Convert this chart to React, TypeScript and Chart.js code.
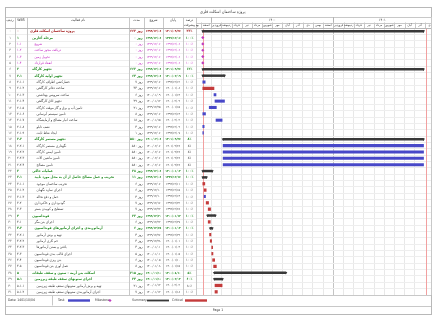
import React, { useEffect, useRef } from "react";
import { Chart, registerables } from "chart.js";

Chart.register(...registerables);

const W = 448;
const H = 317;

// ---------- data ----------
const rowIds = Array.from({ length: 42 }, (_, i) => i);

const wbs = [
  "0", "1", "1.1", "1.2", "1.3", "1.4", "2", "2.1", "2.1.1", "2.1.2", "2.1.3", "2.1.4", "2.1.5",
  "2.1.6", "2.1.7", "2.1.8", "2.1.9", "2.2", "2.2.1", "2.2.2", "2.2.3", "2.2.4", "3", "3.1",
  "3.1.1", "3.1.2", "3.1.3", "3.2", "3.3", "4", "4.1", "4.2", "4.2.1", "4.2.2", "4.2.3", "4.3",
  "4.4", "4.5", "5", "5.1", "5.1.1", "5.1.2",
];

const taskNames = [
  "پروژه ساختمان اسکلت فلزی",
  "مرحله آغازین",
  "شروع",
  "دریافت مجوز ساخت",
  "تحویل زمین",
  "انعقاد قرارداد",
  "تجهیز کارگاه",
  "تجهیز اولیه کارگاه",
  "حصارکشی اطراف کارگاه",
  "ساخت دفاتر کارگاهی",
  "ساخت سرویس بهداشتی",
  "تجهیز اتاق کارگاهی",
  "تامین آب و برق و گاز موقت کارگاه",
  "تامین سیستم آبرسانی",
  "ساخت انبار مصالح و آزمایشگاه",
  "نصب تابلو",
  "ایجاد نقاط ثابت",
  "تجهیز مستمر کارگاه",
  "نگهداری مستمر کارگاه",
  "تامین ایمنی کارگاه",
  "تامین ماشین آلات",
  "تامین مصالح",
  "عملیات خاکی",
  "تخریب و حمل مصالح حاصل از آن به محل مورد تایید",
  "تخریب ساختمان موجود",
  "اجرای سازه نگهبان",
  "حمل و دفع نخاله",
  "گودبرداری و خاکبرداری",
  "تسطیح و کوبیدن بستر",
  "فونداسیون",
  "اجرای بتن مگر",
  "آرماتوربندی و اجرای آرماتورهای فونداسیون",
  "تهیه و برش آرماتور",
  "خم کاری آرماتور",
  "بافتن و بستن آرماتورها",
  "اجرای قالب بندی فونداسیون",
  "بتن ریزی فونداسیون",
  "عمل آوری بتن فونداسیون",
  "اسکلت بتن آرمه - ستون و سقف طبقات",
  "اجرای ستونهای سقف طبقه زیرزمین",
  "تهیه و برش آرماتور ستونهای سقف طبقه زیرزمین",
  "اجرای آرماتوربندی ستونهای سقف طبقه زیرزمین",
];

const outlineLevels = [
  0, 1, 2, 2, 2, 2, 1, 2, 3, 3, 3, 3, 3, 3, 3, 3, 3, 2, 3, 3, 3, 3, 1, 2, 3, 3, 3, 2, 2, 1, 2, 2,
  3, 3, 3, 2, 2, 2, 1, 2, 3, 3,
];

// text style: p = project, s = summary, m = milestone, t = task
const textStyles = [
  "p", "s", "m", "m", "m", "m", "s", "s", "t", "t", "t", "t", "t", "t", "t", "t", "t", "s", "t",
  "t", "t", "t", "s", "s", "t", "t", "t", "t", "t", "s", "t", "s", "t", "t", "t", "t", "t", "t",
  "s", "s", "t", "t",
];

// bar kind: S = summary, T = task, C = critical, M = milestone
const barKinds = [
  "S", "M", "M", "M", "M", "M", "S", "S", "T", "C", "T", "T", "T", "T", "T", "T", "T", "S", "T",
  "T", "T", "T", "S", "S", "C", "C", "T", "C", "C", "S", "C", "S", "C", "C", "C", "C", "C", "C",
  "S", "S", "C", "C",
];

const durations = [
  662, 0, 0, 0, 0, 0, 662, 64, 7, 33, 6, 29, 21, 8, 18, 4, 1, 580, 580, 580, 580, 580, 28, 11, 6,
  6, 4, 7, 7, 23, 6, 6, 4, 4, 4, 5, 6, 8, 215, 24, 21, 7,
];

const startDates = [
  "1399/12/06", "1399/12/06", "1399/12/06", "1399/12/06", "1399/12/06", "1399/12/06",
  "1399/12/06", "1399/12/06", "1399/12/06", "1399/12/06", "1400/01/09", "1400/01/12",
  "1399/12/25", "1399/12/06", "1400/01/15", "1399/12/06", "1399/12/06", "1400/02/06",
  "1400/02/06", "1400/02/06", "1400/02/06", "1400/02/06", "1399/12/06", "1399/12/06",
  "1399/12/06", "1399/12/10", "1399/12/10", "1399/12/16", "1399/12/22", "1399/12/20",
  "1399/12/22", "1399/12/28", "1399/12/26", "1399/12/28", "1400/01/01", "1400/01/01",
  "1400/01/05", "1400/01/08", "1400/01/10", "1400/01/10", "1400/01/12", "1400/01/12",
];

const finishDates = [
  "1401/09/26", "1399/12/06", "1399/12/06", "1399/12/06", "1399/12/06", "1399/12/06",
  "1401/09/26", "1400/02/09", "1399/12/12", "1400/01/08", "1400/01/14", "1400/02/09",
  "1400/01/15", "1399/12/13", "1400/02/02", "1399/12/09", "1399/12/07", "1401/09/26",
  "1401/09/26", "1401/09/26", "1401/09/26", "1401/09/26", "1400/01/03", "1399/12/16",
  "1399/12/11", "1399/12/15", "1399/12/13", "1399/12/22", "1399/12/28", "1400/01/12",
  "1399/12/27", "1400/01/03", "1399/12/29", "1400/01/01", "1400/01/04", "1400/01/05",
  "1400/01/10", "1400/01/15", "1400/08/10", "1400/02/03", "1400/02/02", "1400/01/18",
];

const percentDone = [
  23, 100, 100, 100, 100, 100, 12, 100, 100, 100, 100, 100, 100, 100, 100, 100, 100, 8, 8, 8, 8,
  8, 100, 100, 100, 100, 100, 100, 100, 100, 100, 100, 100, 100, 100, 100, 100, 100, 5, 60, 80,
  100,
];

const monthNames = [
  "فروردین", "اردیبهشت", "خرداد", "تیر", "مرداد", "شهریور",
  "مهر", "آبان", "آذر", "دی", "بهمن", "اسفند",
];
const timelineYears = [1399, 1400, 1401];
const timelineStart = "1399/11/16";
const timelineEnd = "1401/10/19";
const statusDate = "1401/10/04";

const projectTitle = "پروژه ساختمان اسکلت فلزی";
const columnTitles = ["ردیف", "WBS", "نام فعالیت", "مدت", "شروع", "پایان", "درصد|پیشرفت"];
const footerDate = "Date: 1401/10/04";
const legendLabels = ["Task", "Milestone", "Summary", "Critical"];
const pageLabel = "Page 1";

// ---------- helpers ----------
const fa = (s: string | number) => String(s).replace(/\d/g, (d) => "۰۱۲۳۴۵۶۷۸۹"[+d]);
const toM = (s: string) => {
  const [y, m, d] = s.split("/").map(Number);
  return (y - 1400) * 12 + (m - 1) + (d - 1) / 30;
};
const toMEnd = (s: string) => toM(s) + 1 / 30;

const COLORS = {
  task: "#4848c8",
  critical: "#c43b3b",
  summary: "#383838",
  milestone: "#c03cc0",
  project: "#a01010",
  green: "#228b22",
  magenta: "#c020c0",
  text: "#333333",
  line: "#c8c8c8",
  faint: "#eeeeee",
  today: "#f2a0a0",
};
const FONT = '"DejaVu Sans Condensed", "DejaVu Sans"';

const barData = (k: string) =>
  rowIds.map((i) =>
    barKinds[i] === k ? [toM(startDates[i]), toMEnd(finishDates[i])] : null
  );

const capPoints: { x: number; y: string }[] = [];
rowIds.forEach((i) => {
  if (barKinds[i] === "S") {
    capPoints.push({ x: toM(startDates[i]), y: String(i) });
    capPoints.push({ x: toMEnd(finishDates[i]), y: String(i) });
  }
});
const milestonePoints = rowIds
  .filter((i) => barKinds[i] === "M")
  .map((i) => ({ x: toM(startDates[i]), y: String(i) }));

// table columns (x boundaries)
const colEdges = [5, 15, 27, 129, 144, 163, 183, 196];
const FRAME = { l: 5, t: 7, r: 431, b: 314 };

const tablePlugin = {
  id: "ganttTable",
  beforeDatasetsDraw(chart: any) {
    const { ctx, chartArea: a, scales } = chart;
    const x = scales.x;
    ctx.save();
    ctx.lineWidth = 1;
    ctx.strokeStyle = COLORS.today;
    [toM(startDates[0]), toM(statusDate)].forEach((m) => {
      const px = Math.round(x.getPixelForValue(m)) + 0.5;
      ctx.beginPath();
      ctx.moveTo(px, a.top);
      ctx.lineTo(px, a.bottom);
      ctx.stroke();
    });
    ctx.restore();
  },
  afterDraw(chart: any) {
    const { ctx, chartArea: a, scales } = chart;
    const x = scales.x;
    const y = scales.y;
    const hTop = 17;
    const hMid = 22.5;
    const hBot = a.top;
    ctx.save();
    ctx.textBaseline = "middle";
    const hl = (x0: number, x1: number, yy: number, c: string) => {
      ctx.strokeStyle = c;
      ctx.beginPath();
      ctx.moveTo(x0, Math.round(yy) + 0.5);
      ctx.lineTo(x1, Math.round(yy) + 0.5);
      ctx.stroke();
    };
    const vl = (xx: number, y0: number, y1: number, c: string) => {
      ctx.strokeStyle = c;
      ctx.beginPath();
      ctx.moveTo(Math.round(xx) + 0.5, y0);
      ctx.lineTo(Math.round(xx) + 0.5, y1);
      ctx.stroke();
    };
    ctx.lineWidth = 1;

    // row separators in table
    const rowH = y.getPixelForValue(1) - y.getPixelForValue(0);
    for (let i = 0; i <= rowIds.length; i++) {
      const yy = y.getPixelForValue(i) - rowH / 2;
      hl(FRAME.l, a.left, yy, COLORS.faint);
    }
    // column separators
    colEdges.forEach((cx) => vl(cx, hTop, a.bottom, COLORS.line));

    // header lines
    hl(FRAME.l, FRAME.r, hTop, COLORS.line);
    hl(a.left, a.right, hMid, COLORS.line);
    hl(FRAME.l, FRAME.r, hBot, "#b4b4b4");

    // title
    ctx.fillStyle = COLORS.text;
    ctx.font = `4.2px ${FONT}`;
    ctx.textAlign = "left";
    ctx.fillText(projectTitle, a.left + 4, 12);

    // table header text
    ctx.font = `3.6px ${FONT}`;
    ctx.textAlign = "center";
    columnTitles.forEach((t, c) => {
      const cx = (colEdges[c] + colEdges[c + 1]) / 2;
      const parts = t.split("|");
      if (parts.length === 2) {
        ctx.fillText(parts[0], cx, 20);
        ctx.fillText(parts[1], cx, 25.3);
      } else {
        ctx.fillText(parts[0], cx, 20);
      }
    });

    // timescale header
    const clampX = (v: number) => Math.min(a.right, Math.max(a.left, v));
    ctx.save();
    ctx.beginPath();
    ctx.rect(a.left, hTop, a.right - a.left, hBot - hTop);
    ctx.clip();
    timelineYears.forEach((yr, yi) => {
      const m0 = (yr - 1400) * 12;
      const x0 = x.getPixelForValue(m0);
      const x1 = x.getPixelForValue(m0 + 12);
      if (yi > 0) vl(x0, hTop, hBot, "#b4b4b4");
      const v0 = clampX(x0);
      const v1 = clampX(x1);
      if (v1 - v0 > 20) {
        ctx.fillStyle = COLORS.text;
        ctx.font = `3.6px ${FONT}`;
        ctx.textAlign = "center";
        ctx.fillText(fa(yr), (v0 + v1) / 2, 19.8);
      }
      for (let mi = 0; mi < 12; mi++) {
        const mx0 = x.getPixelForValue(m0 + mi);
        const mx1 = x.getPixelForValue(m0 + mi + 1);
        if (mx1 < a.left || mx0 > a.right) continue;
        vl(mx0, hMid, hBot, COLORS.line);
        ctx.fillStyle = COLORS.text;
        ctx.font = `3.1px ${FONT}`;
        ctx.textAlign = "center";
        ctx.save();
        ctx.beginPath();
        ctx.rect(mx0 + 0.5, hMid, mx1 - mx0 - 1, hBot - hMid);
        ctx.clip();
        ctx.fillText(monthNames[mi], (mx0 + mx1) / 2, 25.4);
        ctx.restore();
      }
    });
    ctx.restore();

    // table rows
    rowIds.forEach((i) => {
      const yy = y.getPixelForValue(i) + 0.2;
      const st = textStyles[i];
      let color = COLORS.text;
      let bold = false;
      if (st === "p") { color = COLORS.project; bold = true; }
      else if (st === "s") { color = COLORS.green; bold = true; }
      else if (st === "m") color = COLORS.magenta;
      const f = `${bold ? "bold " : ""}3.5px ${FONT}`;
      ctx.font = `3.5px ${FONT}`;
      ctx.fillStyle = "#555";
      ctx.textAlign = "center";
      ctx.fillText(fa(rowIds[i]), 10, yy);
      ctx.font = f;
      ctx.fillStyle = color;
      ctx.textAlign = "left";
      ctx.fillText(fa(wbs[i]), 17, yy);
      ctx.fillText(taskNames[i], 30 + outlineLevels[i] * 2.2, yy);
      ctx.textAlign = "right";
      ctx.fillText(`${fa(durations[i])} روز`, 142.5, yy);
      ctx.font = `${bold ? "bold " : ""}3.1px ${FONT}`;
      ctx.textAlign = "center";
      ctx.fillText(fa(startDates[i]), 153.5, yy);
      ctx.fillText(fa(finishDates[i]), 173, yy);
      ctx.font = f;
      ctx.fillText(`${fa(percentDone[i])}٪`, 189.5, yy);
    });

    // footer
    const fy = 300.5;
    hl(FRAME.l, FRAME.r, 305.5, COLORS.line);
    vl(52, a.bottom, 305.5, COLORS.line);
    ctx.font = `3.4px ${FONT}`;
    ctx.fillStyle = COLORS.text;
    ctx.textAlign = "left";
    ctx.fillText(footerDate, 8, fy);
    ctx.fillText(legendLabels[0], 58, fy);
    ctx.fillStyle = COLORS.task;
    ctx.fillRect(68, fy - 1.2, 22, 2.4);
    ctx.fillStyle = COLORS.text;
    ctx.fillText(legendLabels[1], 95, fy);
    ctx.fillStyle = COLORS.milestone;
    ctx.beginPath();
    ctx.moveTo(110, fy - 1.6);
    ctx.lineTo(111.6, fy);
    ctx.lineTo(110, fy + 1.6);
    ctx.lineTo(108.4, fy);
    ctx.closePath();
    ctx.fill();
    ctx.fillStyle = COLORS.text;
    ctx.fillText(legendLabels[2], 132, fy);
    ctx.fillStyle = COLORS.summary;
    ctx.fillRect(147, fy - 0.9, 22, 1.8);
    ctx.fillStyle = COLORS.text;
    ctx.fillText(legendLabels[3], 172, fy);
    ctx.fillStyle = COLORS.critical;
    ctx.fillRect(185, fy - 1.2, 22, 2.4);
    ctx.fillStyle = COLORS.text;
    ctx.textAlign = "center";
    ctx.fillText(pageLabel, (FRAME.l + FRAME.r) / 2, 310);

    // frame
    ctx.strokeStyle = "#b8b8b8";
    ctx.strokeRect(FRAME.l + 0.5, FRAME.t + 0.5, FRAME.r - FRAME.l, FRAME.b - FRAME.t);
    vl(a.right, hTop, a.bottom, COLORS.line);
    hl(FRAME.l, FRAME.r, a.bottom, COLORS.line);
    ctx.restore();
  },
};

export default function App() {
  const ref = useRef<HTMLCanvasElement>(null);
  useEffect(() => {
    const canvas = ref.current;
    if (!canvas) return;
    const chart = new Chart(canvas, {
      type: "bar",
      data: {
        labels: rowIds.map(String),
        datasets: [
          {
            type: "bar",
            label: "Task",
            data: barData("T") as any,
            backgroundColor: COLORS.task,
            barThickness: 2.4,
            grouped: false,
          } as any,
          {
            type: "bar",
            label: "Critical",
            data: barData("C") as any,
            backgroundColor: COLORS.critical,
            barThickness: 2.6,
            grouped: false,
          } as any,
          {
            type: "bar",
            label: "Summary",
            data: barData("S") as any,
            backgroundColor: COLORS.summary,
            barThickness: 1.8,
            grouped: false,
          } as any,
          {
            type: "scatter",
            label: "caps",
            data: capPoints as any,
            pointStyle: "triangle",
            rotation: 180,
            radius: 1.7,
            backgroundColor: COLORS.summary,
            borderWidth: 0,
          } as any,
          {
            type: "scatter",
            label: "Milestone",
            data: milestonePoints as any,
            pointStyle: "rectRot",
            radius: 1.6,
            backgroundColor: COLORS.milestone,
            borderWidth: 0,
          } as any,
        ],
      },
      options: {
        indexAxis: "y",
        animation: false,
        responsive: false,
        events: [],
        layout: { padding: { left: 196, right: W - FRAME.r, top: 28, bottom: H - 295 } },
        plugins: {
          legend: { display: false },
          tooltip: { enabled: false },
          title: { display: false },
        },
        scales: {
          x: {
            type: "linear",
            min: toM(timelineStart),
            max: toM(timelineEnd),
            ticks: { display: false, stepSize: 1 },
            grid: {
              drawTicks: false,
              lineWidth: 1,
              color: (c: any) =>
                c.tick && Math.abs(c.tick.value - 12) < 1e-6 ? "#c4c4c4" : "#e8e8e8",
            },
            border: { display: false },
          },
          y: {
            type: "category",
            ticks: { display: false },
            grid: { drawTicks: false, color: "#eeeeee", offset: true },
            border: { display: false },
          },
        },
      } as any,
      plugins: [tablePlugin],
    });
    return () => chart.destroy();
  }, []);

  return (
    <div style={{ position: "fixed", left: 0, top: 0, width: W, height: H, background: "#fff" }}>
      <canvas ref={ref} width={W} height={H} style={{ display: "block", width: W, height: H }} />
    </div>
  );
}
